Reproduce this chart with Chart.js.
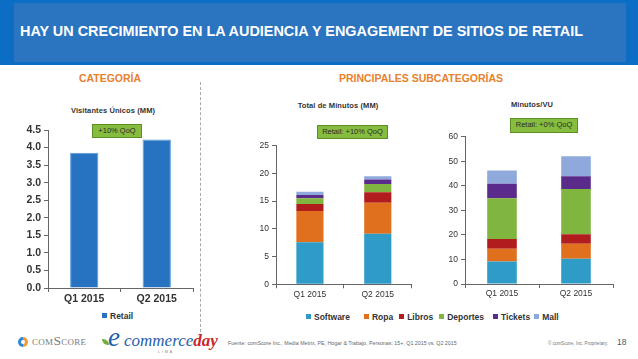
<!DOCTYPE html>
<html><head><meta charset="utf-8">
<script src="https://cdn.jsdelivr.net/npm/chart.js@4"></script>
<style>
html,body{margin:0;padding:0;background:#fff;width:638px;height:359px;overflow:hidden;font-family:"Liberation Sans",Arial,sans-serif;}
.abs{position:absolute;white-space:nowrap;}
#hdr{position:absolute;left:0;top:0;width:638px;height:65px;background:#0b6dc3;}
#hdrIn{position:absolute;left:14px;top:3px;width:612px;height:59px;background:#2b74bf;}
#title{position:absolute;left:20px;top:22px;color:#fff;font-weight:bold;font-size:15px;transform-origin:0 0;white-space:nowrap;}
.sec{color:#e8812e;font-weight:bold;font-size:10.5px;transform:translateX(-50%);}
.ct{color:#333;font-size:7.5px;font-weight:bold;transform:translateX(-50%);letter-spacing:0.1px}
.box{background:#87bd3f;border:1px solid #5f8f24;color:#2a2a2a;font-size:7.5px;text-align:center;box-sizing:border-box;line-height:12px;}
canvas{position:absolute;}
.lg{font-size:8.5px;font-weight:bold;color:#333;}
.sq{display:inline-block;width:5px;height:5px;margin-right:3px;vertical-align:1px;}
</style></head>
<body>
<div id="hdr"></div><div id="hdrIn"></div>
<div id="title">HAY UN CRECIMIENTO EN LA AUDIENCIA Y ENGAGEMENT DE SITIOS DE RETAIL</div>

<div class="abs sec" style="left:110px;top:72px;">CATEGORÍA</div>
<div class="abs sec" style="left:421px;top:72px;">PRINCIPALES SUBCATEGORÍAS</div>
<div class="abs" style="left:200px;top:82px;width:0;height:250px;border-left:1.5px dashed #a8a8a8;"></div>

<div class="abs ct" style="left:113px;top:106px;">Visitantes Únicos (MM)</div>
<div class="abs ct" style="left:338px;top:101px;">Total de Minutos (MM)</div>
<div class="abs ct" style="left:532px;top:100px;">Minutos/VU</div>

<canvas id="c1" width="200" height="190" style="left:0;top:120px"></canvas>
<canvas id="c2" width="190" height="180" style="left:240px;top:130px"></canvas>
<canvas id="c3" width="200" height="190" style="left:430px;top:120px"></canvas>

<div class="abs box" style="left:92px;top:124px;width:50px;height:14px;">+10% QoQ</div>
<div class="abs box" style="left:317px;top:125px;width:71px;height:14px;">Retail: +10% QoQ</div>
<div class="abs box" style="left:510px;top:118px;width:68px;height:15px;">Retail: +0% QoQ</div>

<div class="abs lg" style="left:102px;top:311px;"><span class="sq" style="background:#2872c2"></span>Retail</div>
<div id="lg2" class="abs lg" style="left:306px;top:312px;"></div>

<div class="abs" style="left:18px;top:337px;width:10px;height:10px;border-radius:50%;background:conic-gradient(#f29a2e 0 50%,#2d8ad0 50% 100%);"></div>
<div class="abs" style="left:21px;top:340px;width:4px;height:4px;border-radius:50%;background:#fff;"></div>
<div class="abs" style="left:32px;top:333px;font-family:'Liberation Serif',serif;color:#7a7a7a;font-size:13.5px;font-variant:small-caps;letter-spacing:0.3px">comScore</div>
<div class="abs" style="left:102px;top:339px;width:7px;height:6px;border-radius:0 6px 0 6px;background:#6fae3a;"></div>
<div class="abs" style="left:108px;top:324px;font-family:'Liberation Serif',serif;font-style:italic;color:#1f5fae;font-size:27px;line-height:27px;">e</div>
<div class="abs" style="left:124px;top:332px;font-family:'Liberation Serif',serif;font-style:italic;color:#1f5fae;font-size:17px;line-height:17px;">commerce<span style="color:#c8262c;font-weight:bold;">day</span></div>
<div class="abs" style="left:158px;top:350px;font-size:3.5px;color:#888;letter-spacing:2px">LIMA</div>
<div class="abs" style="left:228px;top:340px;font-size:5.3px;color:#666;">Fuente: comScore Inc., Media Metrix, PE, Hogar &amp; Trabajo, Personas: 15+, Q1 2015 vs. Q2 2015</div>
<div class="abs" style="left:548px;top:341px;font-size:4.6px;color:#777;">© comScore, Inc. Proprietary.</div>
<div class="abs" style="left:617px;top:337px;font-size:8.5px;color:#555;">18</div>

<script>
const categories = ["Q1 2015", "Q2 2015"];
const retailVisitors = [3.85, 4.23];
const seriesNames = ["Software", "Ropa", "Libros", "Deportes", "Tickets", "Mall"];
const seriesColors = ["#2e9cc7", "#e0701e", "#b11d1e", "#80b53f", "#5a2b8b", "#8fa9dc"];
const totalMinutes = {
  Software: [7.6, 9.1],
  Ropa:     [5.6, 5.6],
  Libros:   [1.3, 1.9],
  Deportes: [1.0, 1.5],
  Tickets:  [0.6, 0.8],
  Mall:     [0.6, 0.6]
};
const minutesPerVU = {
  Software: [9.2, 10.3],
  Ropa:     [5.2, 6.1],
  Libros:   [3.9, 3.9],
  Deportes: [16.6, 18.4],
  Tickets:  [5.9, 5.2],
  Mall:     [5.4, 8.1]
};

// title fit
const t = document.getElementById('title');
t.style.transform = 'scaleX(' + (563 / t.getBoundingClientRect().width) + ')';

// legend
document.getElementById('lg2').innerHTML = seriesNames.map((n,i)=>
  '<span style="margin-right:' + [14,6,6,9,4,0][i] + 'px"><span class="sq" style="background:'+seriesColors[i]+'"></span>'+n+'</span>').join('');

const FONT = "'Liberation Sans', Arial, sans-serif";
function makeChart(id, datasets, opts) {
  return new Chart(document.getElementById(id), {
    type: 'bar',
    data: { labels: categories, datasets },
    options: {
      responsive: false, animation: false, devicePixelRatio: 1,
      layout: { padding: opts.padding },
      plugins: { legend: { display: false }, tooltip: { enabled: false } },
      scales: {
        x: {
          stacked: true,
          grid: { drawOnChartArea: false, drawTicks: true, tickLength: 4, color: '#666', offset: true },
          border: { display: true, color: '#666', width: 1 },
          ticks: { color: '#333', padding: 1, font: { family: FONT, size: opts.xSize, weight: opts.bold ? 'bold' : 'normal' } },
          afterFit: s => { s.height = opts.xH; }
        },
        y: {
          stacked: true, min: 0, max: opts.max,
          grid: { drawOnChartArea: false, drawTicks: true, tickLength: 4, color: '#666' },
          border: { display: true, color: '#666', width: 1 },
          ticks: { stepSize: opts.step, color: '#333', padding: 3, font: { family: FONT, size: opts.ySize, weight: opts.bold ? 'bold' : 'normal' },
                   callback: v => opts.fmt ? Number(v).toFixed(1) : v },
          afterFit: s => { s.width = opts.yW; }
        }
      }
    }
  });
}

makeChart('c1', [{ label: 'Retail', data: retailVisitors, backgroundColor: '#2872c2', borderColor: '#5d9bd8', borderWidth: 1, barPercentage: 0.39, categoryPercentage: 1 }],
  { padding: { top: 10, right: 7, left: 0, bottom: 0 }, xH: 22, yW: 48, max: 4.5, step: 0.5, xSize: 10.5, ySize: 10.5, bold: true, fmt: true });

function stacked(obj) {
  return seriesNames.map((n, i) => ({ label: n, data: obj[n], backgroundColor: seriesColors[i], barPercentage: 0.4, categoryPercentage: 1 }));
}
makeChart('c2', stacked(totalMinutes),
  { padding: { top: 15.7, right: 18.3, left: 0, bottom: 0 }, xH: 25.7, yW: 36, max: 25, step: 5, xSize: 8.5, ySize: 8.5, bold: false });
makeChart('c3', stacked(minutesPerVU),
  { padding: { top: 16.7, right: 17, left: 0, bottom: 0 }, xH: 26, yW: 35, max: 60, step: 10, xSize: 8.5, ySize: 8.5, bold: false });
</script>
</body></html>
